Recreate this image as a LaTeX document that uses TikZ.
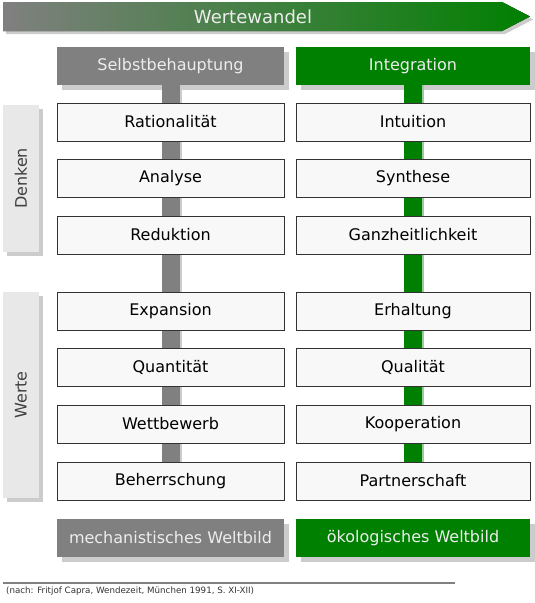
\documentclass[tikz,border=0pt]{standalone}
\usepackage{fontspec}
\setmainfont{DejaVu Sans}
\usetikzlibrary{shadows}

\definecolor{boxgray}{HTML}{808080}
\definecolor{boxgreen}{HTML}{008000}
\definecolor{itemfill}{HTML}{F8F8F8}
\definecolor{sidefill}{HTML}{E8E8E8}

\tikzset{
  boxshadow/.style={drop shadow={shadow xshift=5pt, shadow yshift=-5pt, fill=black!20, opacity=1}},
  headbox/.style={boxshadow, minimum height=38pt, inner sep=0pt, text=white!93!black, font=\fontsize{16}{19}\selectfont},
  itembox/.style={draw=black!80, line width=1pt, fill=itemfill, minimum height=38pt, inner sep=0pt, font=\fontsize{16}{19}\selectfont},
  sidebox/.style={fill=sidefill, drop shadow={shadow xshift=4pt, shadow yshift=-4pt, fill=black!20, opacity=1}, minimum width=36pt, inner sep=0pt},
  sidetext/.style={rotate=90, text=black!75, font=\fontsize{16}{19}\selectfont},
  bar/.style={line width=18pt},
}

\begin{document}
\begin{tikzpicture}[x=1pt,y=-1pt]
\useasboundingbox (0,0) rectangle (535,603);

% Arrow on top
\fill[left color=boxgray, right color=boxgreen, drop shadow={shadow xshift=3pt, shadow yshift=-3pt, fill=black!20, opacity=1}]
  (3,2) -- (502,2) -- (530,16.5) -- (502,31) -- (3,31) -- cycle;
\node[text=white!93!black, font=\fontsize{18}{21}\selectfont] (wandel) at (253,16.5) {Wertewandel};

% Headers
\node[headbox, fill=boxgray, minimum width=227pt] (sb) at (170.5,66) {Selbstbehauptung};
\node[headbox, fill=boxgreen, minimum width=234pt] (ig) at (413,66) {Integration};

% Bars behind the items
\coordinate (lend) at (170.5,481);
\coordinate (rend) at (413,481);
\draw[bar, draw=black!20] ([xshift=2pt]sb.south) -- ([xshift=2pt]lend);
\draw[bar, draw=boxgray] (sb.south) -- (lend);
\draw[bar, draw=boxgreen!40] ([xshift=2pt]ig.south) -- ([xshift=2pt]rend);
\draw[bar, draw=boxgreen] (ig.south) -- (rend);

% Items
\foreach \y/\l/\r [count=\i] in {122/Rationalität/Intuition, 178/Analyse/Synthese,
    235/Reduktion/Ganzheitlichkeit, 311/Expansion/Erhaltung, 367.5/Quantität/Qualität,
    424/Wettbewerb/Kooperation, 481/Beherrschung/Partnerschaft} {
    \node[itembox, minimum width=227pt] (l\i) at (170.5,\y) {\l};
    \node[itembox, minimum width=234pt] (r\i) at (413,\y) {\r};
}

% Side labels
\node[sidebox, minimum height=147pt] (denken) at (21,178.5) {};
\node[sidetext] (denkentext) at (denken) {Denken};
\node[sidebox, minimum height=206pt] (werte) at (21,395) {};
\node[sidetext] (wertetext) at (werte) {Werte};

% Footer boxes
\node[headbox, fill=boxgray, minimum width=227pt] (mech) at (170.5,538) {mechanistisches Weltbild};
\node[headbox, fill=boxgreen, minimum width=234pt] (oeko) at (413,538) {ökologisches Weltbild};

% Source
\coordinate (linel) at (3,583);
\coordinate (liner) at (455,583);
\draw[line width=1.5pt, draw=boxgray] (linel) -- (liner);
\node[anchor=west, inner sep=0pt, text=black!80, font=\fontsize{8.7}{10}\selectfont] (quelle) at (6,591)
  {(nach: Fritjof Capra, Wendezeit, München 1991, S. XI-XII)};
\end{tikzpicture}
\end{document}
